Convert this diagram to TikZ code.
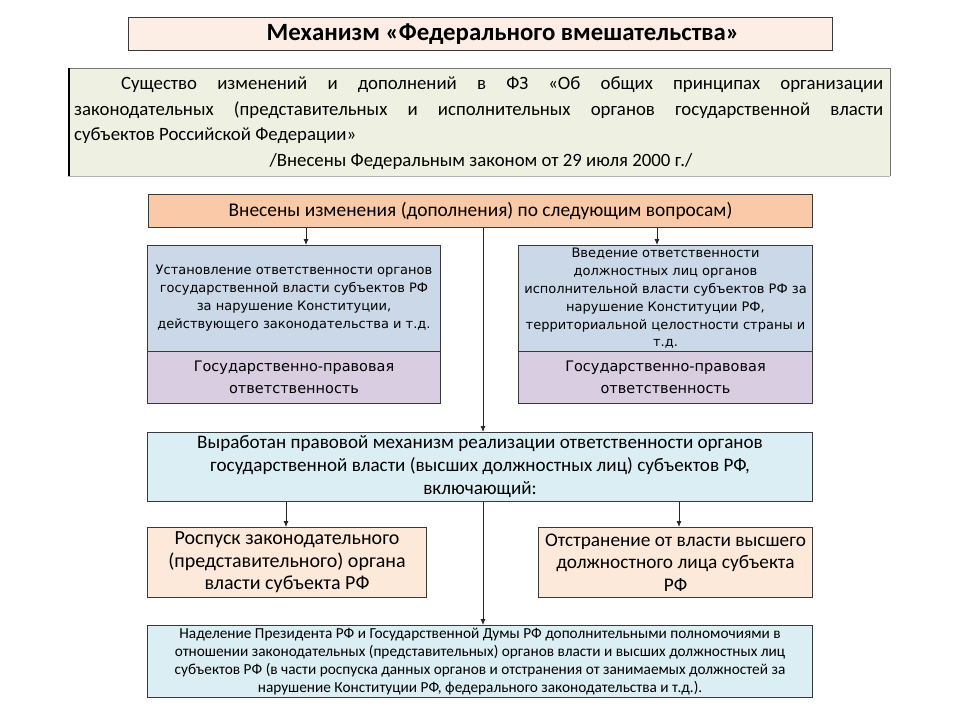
\documentclass[tikz,border=0pt]{standalone}
\usepackage{fontspec}
\setmainfont{Carlito}
\newfontfamily\dvs{DejaVu Sans}
\usetikzlibrary{arrows.meta}
\definecolor{bordc}{HTML}{3A3A3A}
\definecolor{titlefill}{HTML}{FCEEE4}
\definecolor{lawfill}{HTML}{EEF0E1}
\definecolor{orangefill}{HTML}{F9C9A8}
\definecolor{bluefill}{HTML}{CAD8E8}
\definecolor{purplefill}{HTML}{D8CDE1}
\definecolor{cyanfill}{HTML}{DAEEF3}
\definecolor{peachfill}{HTML}{FDE9DA}
\begin{document}
\begin{tikzpicture}[x=1pt,y=-1pt,
  box/.style={draw=bordc, line width=1pt, inner sep=0pt, anchor=north west, align=center},
  arr/.style={-{Latex[length=6pt,width=5pt]}, line width=0.8pt, draw=black!85},
  plain/.style={draw=black!85, line width=0.8pt}]
\useasboundingbox (0,0) rectangle (960,720);
\fill[white] (0,0) rectangle (960,720);

% title
\node[box, fill=titlefill, minimum width=704pt, minimum height=33pt] (title) at (128,17) {};
\node[font=\fontsize{24.8}{28}\selectfont\bfseries, inner sep=0pt] (titletext) at (503,34) {Механизм «Федерального вмешательства»};

% law box
\fill[lawfill] (68,68) rectangle (890,176);
\draw[bordc!70, line width=0.8pt] (68,68) -- (890,68) -- (890,176);
\draw[black!30, line width=0.6pt] (68,176) -- (890,176);
\draw[black, line width=2pt] (69,68) -- (69,176);
\node[anchor=north west, inner sep=0pt, text width=809pt, align=justify,
  font=\fontsize{18.8}{25.2}\selectfont] (law) at (74,77)
  {\hyphenpenalty=10000\hspace*{47pt}Существо изменений и дополнений в ФЗ «Об общих принципах организации\linebreak
   законодательных (представительных и исполнительных органов государственной власти\linebreak
   субъектов Российской Федерации»};
\node[font=\fontsize{18.8}{25}\selectfont, inner sep=0pt] (lawdate) at (481,162) {/Внесены Федеральным законом от 29 июля 2000 г./};

% orange
\node[box, fill=orangefill, minimum width=664pt, minimum height=33pt,
  font=\fontsize{19.4}{23}\selectfont] (orange) at (148,194) {Внесены изменения (дополнения) по следующим вопросам)};

% blue boxes
\node[box, fill=bluefill, minimum width=293pt, minimum height=106pt,
  font=\dvs\fontsize{13}{18}\selectfont] (blueL) at (147,245)
  {Установление ответственности органов\\государственной власти субъектов РФ\\за нарушение Конституции,\\действующего законодательства и т.д.};
\node[box, fill=purplefill, minimum width=293pt, minimum height=52pt,
  font=\dvs\fontsize{14.5}{22}\selectfont] (purpleL) at (147,351)
  {Государственно-правовая\\ответственность};
\node[box, fill=bluefill, minimum width=294pt, minimum height=106pt,
  font=\dvs\fontsize{13}{17.8}\selectfont] (blueR) at (518,245)
  {Введение ответственности\\должностных лиц органов\\исполнительной власти субъектов РФ за\\нарушение Конституции РФ,\\территориальной целостности страны и\\т.д.};
\node[box, fill=purplefill, minimum width=294pt, minimum height=52pt,
  font=\dvs\fontsize{14.5}{22}\selectfont] (purpleR) at (518,351)
  {Государственно-правовая\\ответственность};

% cyan
\node[box, fill=cyanfill, minimum width=665pt, minimum height=69pt,
  font=\fontsize{19.1}{23}\selectfont] (cyan) at (147,432)
  {Выработан правовой механизм реализации ответственности органов\\государственной власти (высших должностных лиц) субъектов РФ,\\включающий:};

% peach
\node[box, fill=peachfill, minimum width=279pt, minimum height=70pt,
  font=\fontsize{20}{22.5}\selectfont] (peachL) at (147,527)
  {Роспуск законодательного\\(представительного) органа\\власти субъекта РФ};
\node[box, fill=peachfill, minimum width=274pt, minimum height=70pt,
  font=\fontsize{19.3}{22.5}\selectfont] (peachR) at (538,527)
  {Отстранение от власти высшего\\должностного лица субъекта\\РФ};

% bottom
\node[box, fill=cyanfill, minimum width=665pt, minimum height=72pt,
  font=\fontsize{15.3}{18}\selectfont] (bottom) at (147,625)
  {Наделение Президента РФ и Государственной Думы РФ дополнительными полномочиями в\\отношении законодательных (представительных) органов власти и высших должностных лиц\\субъектов РФ (в части роспуска данных органов и отстранения от занимаемых должностей за\\нарушение Конституции РФ, федерального законодательства и т.д.).};

% connectors
\coordinate (xA) at (306,0);
\coordinate (xB) at (657,0);
\coordinate (xC) at (483,0);
\coordinate (xD) at (286,0);
\coordinate (xE) at (679,0);
\draw[arr] (orange.south -| xA) -- (blueL.north -| xA);
\draw[arr] (orange.south -| xB) -- (blueR.north -| xB);
\draw[arr] (orange.south -| xC) -- (cyan.north -| xC);
\draw[arr] (cyan.south -| xD) -- (peachL.north -| xD);
\draw[arr] (cyan.south -| xE) -- (peachR.north -| xE);
\draw[arr] (cyan.south -| xC) -- (bottom.north -| xC);
\end{tikzpicture}
\end{document}
